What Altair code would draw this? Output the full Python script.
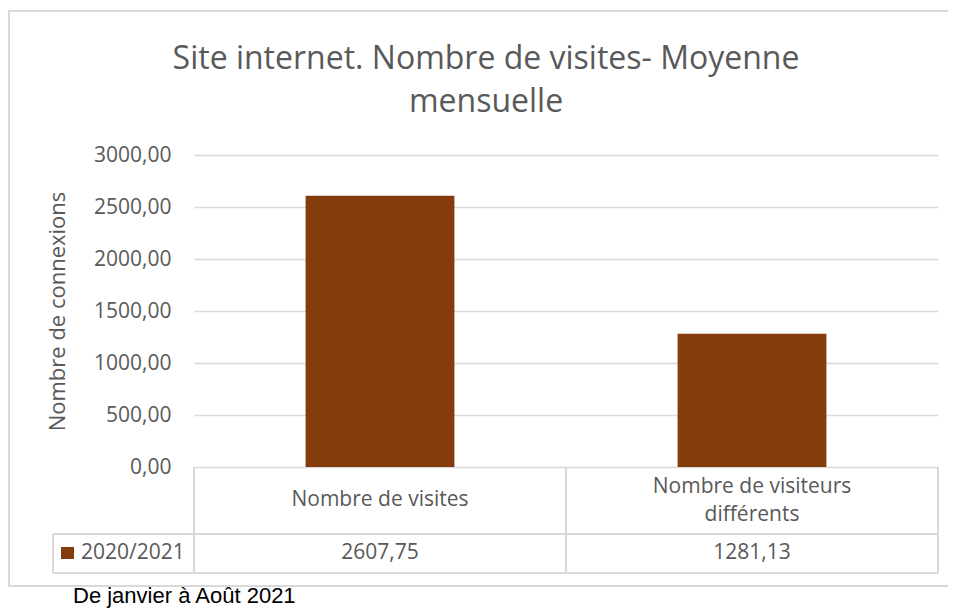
import altair as alt
import pandas as pd

categories = ["Nombre de visites", "Nombre de visiteurs différents"]
label_line1 = ["Nombre de visites", "Nombre de visiteurs"]
label_line2 = ["", "différents"]
values = [2607.75, 1281.13]
value_labels = ["2607,75", "1281,13"]
series_name = "2020/2021"
y_ticks = [0, 500, 1000, 1500, 2000, 2500, 3000]
title_lines = ["Site internet. Nombre de visites- Moyenne", "mensuelle"]
y_title = "Nombre de connexions"
footer = "De janvier à Août 2021"

df = pd.DataFrame({
    "cat": categories,
    "l1": label_line1,
    "l2": label_line2,
    "value": values,
    "vlabel": value_labels,
})

BAR = "#843C0C"
TXT = "#595959"
GRID = "#D9D9D9"
FONT = "Open Sans"

W, H = 744, 312

xscale = alt.Scale(domain=categories, paddingInner=0.6, paddingOuter=0.3)
yscale = alt.Scale(domain=[0, 3000])
X = alt.X("cat:N", scale=xscale, axis=None, sort=categories)

base = alt.Chart(df)

bars = base.mark_bar(color=BAR).encode(
    x=X,
    y=alt.Y("value:Q", scale=yscale, axis=alt.Axis(
        values=y_ticks,
        labelExpr="replace(format(datum.value, '.2f'), '.', ',')",
        labelFont=FONT, labelFontSize=21, labelColor=TXT, labelPadding=23,
        ticks=False, domain=False,
        grid=True, gridColor=GRID, gridWidth=1.5,
        title=y_title, titleFont=FONT, titleFontSize=22, titleColor=TXT,
        titleFontWeight="normal", titlePadding=24,
    )),
)

txt = dict(font=FONT, fontSize=21, color=TXT, baseline="middle")

# data table: category labels (single-line and two-line cells) and values
cat_single = base.transform_filter(alt.datum.l2 == "").mark_text(**txt).encode(
    x=X, y=alt.value(345), text="l1:N")
cat_two_a = base.transform_filter(alt.datum.l2 != "").mark_text(**txt).encode(
    x=X, y=alt.value(332), text="l1:N")
cat_two_b = base.transform_filter(alt.datum.l2 != "").mark_text(**txt).encode(
    x=X, y=alt.value(360), text="l2:N")
val_text = base.mark_text(**txt).encode(x=X, y=alt.value(398), text="vlabel:N")

# table lines
def rule(x1, x2, y1, y2):
    return alt.Chart(pd.DataFrame({"a": [0]})).mark_rule(color=GRID, strokeWidth=2).encode(
        x=alt.value(x1), x2=alt.value(x2), y=alt.value(y1), y2=alt.value(y2))

lines = [
    rule(0, 0, 312, 418),
    rule(372, 372, 312, 418),
    rule(744, 744, 312, 418),
    rule(-141, 744, 379, 379),
    rule(-141, 744, 418, 418),
    rule(-141, -141, 379, 418),
]

legend_sq = alt.Chart(pd.DataFrame({"s": [series_name]})).mark_rect(color=BAR).encode(
    x=alt.value(-133), x2=alt.value(-120), y=alt.value(392), y2=alt.value(404))
legend_txt = alt.Chart(pd.DataFrame({"s": [series_name]})).mark_text(
    font=FONT, fontSize=21, color=TXT, align="left", baseline="middle").encode(
    x=alt.value(-113), y=alt.value(398), text="s:N")

border = alt.Chart(pd.DataFrame({"a": [0]})).mark_rect(
    fill=None, stroke=GRID, strokeWidth=2).encode(
    x=alt.value(-185), x2=alt.value(780), y=alt.value(-144), y2=alt.value(431))

t1 = alt.Chart(pd.DataFrame({"t": [title_lines[0]]})).mark_text(
    font=FONT, fontSize=32, color=TXT, align="center", baseline="alphabetic").encode(
    x=alt.value(292), y=alt.value(-86), text="t:N")
t2 = alt.Chart(pd.DataFrame({"t": [title_lines[1]]})).mark_text(
    font=FONT, fontSize=32, color=TXT, align="center", baseline="alphabetic").encode(
    x=alt.value(292), y=alt.value(-43), text="t:N")

foot = alt.Chart(pd.DataFrame({"t": [footer]})).mark_text(
    font="Liberation Sans", fontSize=22, color="#000000", align="left", baseline="alphabetic").encode(
    x=alt.value(-121), y=alt.value(448), text="t:N")

chart = alt.layer(border, *lines, bars, cat_single, cat_two_a, cat_two_b, val_text,
                  legend_sq, legend_txt, t1, t2, foot).properties(
    width=W, height=H,
    autosize=alt.AutoSizeParams(type="none"),
    padding={"left": 186, "top": 147, "right": 10, "bottom": 141},
    background="white",
).configure_view(stroke=None)

chart.save("out.html", embed_options={"renderer": "svg", "actions": False})
